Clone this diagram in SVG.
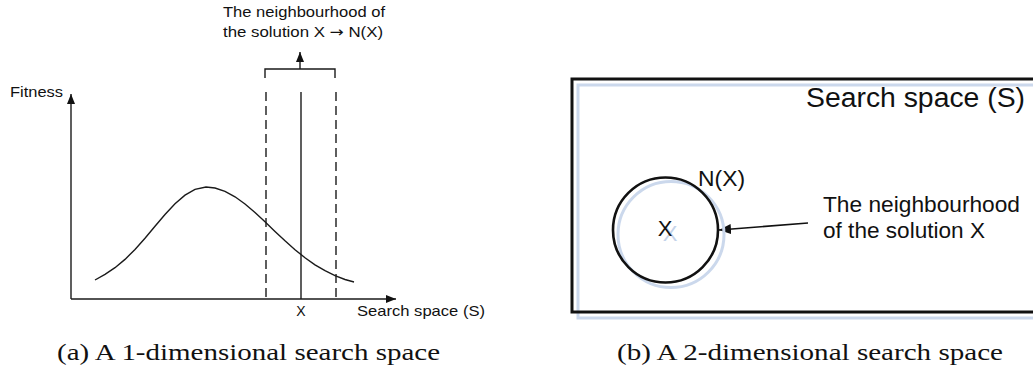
<svg xmlns="http://www.w3.org/2000/svg" width="1033" height="370" viewBox="0 0 1033 370">
<style>
.sans{font-family:"Liberation Sans",Arial,sans-serif;fill:#111}
.serif{font-family:"Liberation Serif","Times New Roman",serif;fill:#111;font-size:24px}
.ln{stroke:#1a1a1a;stroke-width:1.4;fill:none}
.dash{stroke:#1a1a1a;stroke-width:1.4;fill:none;stroke-dasharray:9,5}
.shadow{stroke:#cbd8ec;fill:none;stroke-width:3}
</style>
<defs>
<marker id="ah" markerUnits="userSpaceOnUse" markerWidth="11" markerHeight="8" refX="10" refY="4" orient="auto">
<path d="M0,0 L10,4 L0,8 z" fill="#111"/>
</marker>
<marker id="ah2" markerUnits="userSpaceOnUse" markerWidth="13" markerHeight="10" refX="12" refY="5" orient="auto">
<path d="M0,0 L12,5 L0,10 z" fill="#111"/>
</marker>
</defs>
<rect width="1033" height="370" fill="#fff"/>

<g id="connectors">
<line class="ln" x1="71" y1="299" x2="71" y2="94" marker-end="url(#ah)"/>
<line class="ln" x1="71" y1="299" x2="396" y2="299" marker-end="url(#ah)"/>
<line class="dash" x1="266" y1="92" x2="266" y2="299"/>
<line class="dash" x1="336" y1="92" x2="336" y2="299"/>
<line class="ln" x1="301" y1="92" x2="301" y2="299"/>
<path class="ln" d="M265,78 V69 H335 V78"/>
<line class="ln" x1="300" y1="69" x2="300" y2="52" marker-end="url(#ah)"/>
<line stroke="#111" stroke-width="1.6" x1="808" y1="223" x2="719" y2="230" marker-end="url(#ah2)"/>
</g>

<g id="curve">
<path class="ln" stroke-width="1.2" d="M95,280 L105,274.4 L115,267.7 L125,259.4 L135,249.4 L145,238.2 L155,226.3 L165,214.5 L175,203.8 L185,195.1 L195,189.3 L206,187 L215,188 L225,191.3 L235,196.8 L245,204 L255,212.5 L265,221.8 L275,231.4 L285,240.8 L295,249.7 L305,257.7 L315,264.8 L325,270.7 L335,275.6 L345,279.5 L354,282"/>
</g>

<g id="label-fitness"><text class="sans" x="10" y="97" font-size="15" textLength="53" lengthAdjust="spacingAndGlyphs">Fitness</text></g>
<g id="label-neigh-top">
<text class="sans" x="223" y="17" font-size="15" textLength="162" lengthAdjust="spacingAndGlyphs">The neighbourhood of</text>
<text class="sans" x="223" y="37" font-size="15" textLength="160" lengthAdjust="spacingAndGlyphs">the solution X <tspan font-family="DejaVu Sans, sans-serif">→</tspan> N(X)</text>
</g>
<g id="label-x1"><text class="sans" x="301" y="316" font-size="14" text-anchor="middle">X</text></g>
<g id="label-space1"><text class="sans" x="357" y="316" font-size="15" textLength="128" lengthAdjust="spacingAndGlyphs">Search space (S)</text></g>

<g id="search-space-box">
<rect class="shadow" x="578" y="85" width="500" height="233"/>
<rect x="572" y="79" width="500" height="233" fill="none" stroke="#111" stroke-width="3"/>
<text class="sans" x="806" y="107" font-size="27" textLength="219" lengthAdjust="spacingAndGlyphs">Search space (S)</text>
</g>

<g id="neighbourhood-circle">
<circle class="shadow" cx="671" cy="234.5" r="53"/>
<circle cx="665.5" cy="230" r="52.5" fill="none" stroke="#111" stroke-width="2.6"/>
<text x="670" y="241" font-size="22" text-anchor="middle" fill="#c4d3ea" font-family="Liberation Sans, Arial, sans-serif">X</text>
<text class="sans" x="665" y="236" font-size="22" text-anchor="middle">X</text>
<text class="sans" x="698" y="186" font-size="22" textLength="47" lengthAdjust="spacingAndGlyphs">N(X)</text>
</g>

<g id="label-neigh-right">
<text class="sans" x="823" y="212" font-size="22" textLength="197" lengthAdjust="spacingAndGlyphs">The neighbourhood</text>
<text class="sans" x="823" y="238" font-size="22" textLength="162" lengthAdjust="spacingAndGlyphs">of the solution X</text>
</g>

<g id="captions">
<text class="serif" x="57" y="360" textLength="383" lengthAdjust="spacingAndGlyphs">(a) A 1-dimensional search space</text>
<text class="serif" x="617" y="360" textLength="386" lengthAdjust="spacingAndGlyphs">(b) A 2-dimensional search space</text>
</g>
</svg>
